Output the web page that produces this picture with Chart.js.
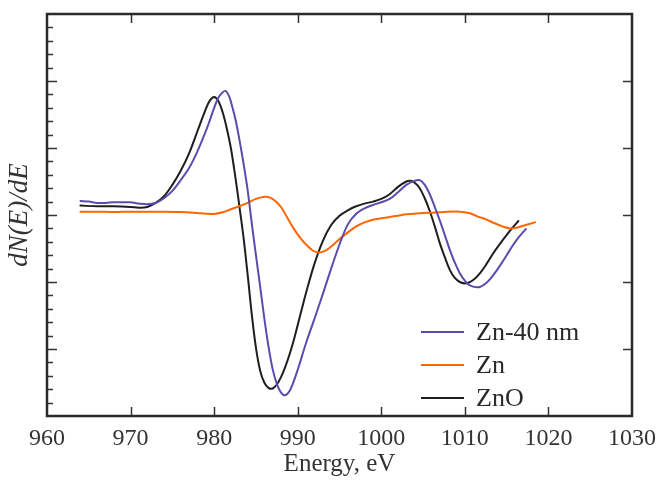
<!DOCTYPE html>
<html>
<head>
<meta charset="utf-8">
<script src="https://cdn.jsdelivr.net/npm/chart.js@4"></script>
<style>
html,body{margin:0;padding:0;background:#fff;}
#wrap{width:656px;height:483px;position:relative;}
</style>
</head>
<body>
<div id="wrap"><canvas id="c" width="656" height="483"></canvas></div>
<script>
// Energy (eV) and dN(E)/dE values
const zn40X = [964,965,966,967,968,969,970,971,972,973,974,975,976,977,978,979,979.5,980,980.5,981,981.4,981.8,982.2,982.6,983,983.5,984,984.5,985,985.5,986,986.5,987,987.5,988,988.5,989,989.5,990,990.5,991,992,993,994,995,996,997,998,999,1000,1001,1002,1003,1004,1004.6,1005.2,1005.8,1006.4,1007,1007.6,1008.2,1008.8,1009.4,1010,1010.6,1011.6,1012.3,1013,1013.8,1014.6,1015.4,1016.2,1017.3];
const zn40Y = [0.21,0.2,0.18,0.18,0.19,0.19,0.19,0.17,0.16,0.18,0.25,0.36,0.52,0.7,0.95,1.25,1.42,1.6,1.75,1.83,1.85,1.77,1.6,1.4,1.14,0.78,0.38,-0.12,-0.6,-1.06,-1.54,-1.96,-2.3,-2.52,-2.65,-2.69,-2.63,-2.49,-2.31,-2.11,-1.91,-1.55,-1.18,-0.8,-0.44,-0.14,0.02,0.1,0.15,0.19,0.24,0.34,0.45,0.51,0.52,0.45,0.31,0.12,-0.08,-0.3,-0.52,-0.71,-0.87,-0.98,-1.05,-1.08,-1.04,-0.96,-0.83,-0.68,-0.52,-0.37,-0.21];

const znX = [964,966,968,970,972,974,976,978,979,980,981,982,983,984,985,985.9,986.7,987.4,988.1,988.8,989.5,990.3,991,991.8,992.5,993.2,994,995,996,997,998,999,1000,1001,1002,1003,1004.6,1006,1007.5,1009.4,1010.5,1011.5,1012.6,1013.5,1014.5,1015.4,1016.2,1017,1018.4];
const znY = [0.05,0.05,0.045,0.05,0.05,0.05,0.045,0.03,0.02,0.015,0.04,0.085,0.13,0.18,0.24,0.27,0.26,0.2,0.1,-0.05,-0.2,-0.34,-0.44,-0.53,-0.56,-0.54,-0.47,-0.36,-0.26,-0.17,-0.11,-0.07,-0.05,-0.03,-0.01,0.01,0.025,0.035,0.045,0.05,0.03,-0.02,-0.07,-0.12,-0.17,-0.2,-0.19,-0.16,-0.11];

const znoX = [964,966,968,970,971,972,973,974,975,976,977,978,979,979.5,980,980.5,981,981.5,982,982.5,983,983.5,984,984.5,985,985.5,986,986.5,987,987.5,988,988.5,989,989.5,990,990.5,991,992,993,994,995,996,997,998,999,1000,1001,1002,1003,1003.5,1004,1004.6,1005.2,1005.8,1006.4,1007,1007.6,1008.2,1008.8,1009.4,1010.2,1011,1011.8,1012.6,1013.4,1014.2,1015,1015.7,1016.4];
const znoY = [0.14,0.13,0.13,0.12,0.11,0.12,0.18,0.28,0.45,0.66,0.92,1.25,1.58,1.71,1.76,1.7,1.54,1.3,1.0,0.6,0.15,-0.32,-0.88,-1.48,-1.98,-2.32,-2.5,-2.58,-2.59,-2.53,-2.42,-2.27,-2.09,-1.88,-1.64,-1.4,-1.16,-0.73,-0.39,-0.15,-0.01,0.07,0.13,0.17,0.2,0.24,0.31,0.42,0.5,0.51,0.48,0.4,0.25,0.06,-0.17,-0.42,-0.63,-0.82,-0.94,-1.0,-1.02,-0.97,-0.87,-0.73,-0.57,-0.43,-0.3,-0.19,-0.09];

const seriesNames = ['Zn-40 nm','Zn','ZnO'];
const seriesColors = ['#5a4cae','#ff6600','#1e1e1e'];
const xTicks = [960,970,980,990,1000,1010,1020,1030];
const yMajor = [-2,-1,0,1,2];

const FONT = '"Liberation Serif","Times New Roman",serif';
const pts = (xs, ys) => xs.map((x,i)=>({x:x,y:ys[i]}));

const frame = {
  id:'frame',
  afterDraw(chart){
    const {ctx, chartArea:a, scales:{x,y}} = chart;
    ctx.save();
    ctx.strokeStyle = '#333';
    ctx.lineWidth = 1.5;
    xTicks.forEach(v=>{
      if(v===960||v===1030) return;
      const px = Math.round(x.getPixelForValue(v))+0.5;
      ctx.beginPath();
      ctx.moveTo(px,a.bottom); ctx.lineTo(px,a.bottom-9);
      ctx.moveTo(px,a.top); ctx.lineTo(px,a.top+9);
      ctx.stroke();
    });
    for(let k=-14;k<=14;k++){
      const v = k/5;
      const py = Math.round(y.getPixelForValue(v))+0.5;
      const major = (k%5===0);
      ctx.beginPath();
      ctx.moveTo(a.left,py); ctx.lineTo(a.left+(major?10:6),py);
      ctx.stroke();
    }
    yMajor.forEach(v=>{
      const py = Math.round(y.getPixelForValue(v))+0.5;
      ctx.beginPath();
      ctx.moveTo(a.right,py); ctx.lineTo(a.right-9,py);
      ctx.stroke();
    });
    ctx.lineWidth = 2.5;
    ctx.strokeStyle = '#2a2a2a';
    ctx.strokeRect(a.left,a.top,a.right-a.left,a.bottom-a.top);
    ctx.font = '26px ' + FONT;
    ctx.textBaseline = 'middle';
    ctx.textAlign = 'left';
    chart.data.datasets.forEach((ds,i)=>{
      const ly = 332 + i*33;
      ctx.strokeStyle = ds.borderColor;
      ctx.lineWidth = 2;
      ctx.beginPath();
      ctx.moveTo(421,ly); ctx.lineTo(464,ly);
      ctx.stroke();
      ctx.fillStyle = '#2a2a2a';
      ctx.fillText(ds.label,476,ly+1);
    });
    ctx.restore();
  }
};

new Chart(document.getElementById('c'),{
  type:'line',
  data:{
    datasets:[
      {label:seriesNames[0],data:pts(zn40X,zn40Y),borderColor:seriesColors[0]},
      {label:seriesNames[1],data:pts(znX,znY),borderColor:seriesColors[1]},
      {label:seriesNames[2],data:pts(znoX,znoY),borderColor:seriesColors[2]}
    ]
  },
  options:{
    responsive:false,
    animation:false,
    events:[],
    layout:{padding:{top:14,right:24,left:0,bottom:0}},
    elements:{
      point:{radius:0},
      line:{borderWidth:2,tension:0.35,fill:false,borderJoinStyle:'round',borderCapStyle:'round'}
    },
    plugins:{legend:{display:false},tooltip:{enabled:false}},
    scales:{
      x:{
        type:'linear',min:960,max:1030,
        afterBuildTicks(s){ s.ticks = xTicks.map(v=>({value:v})); },
        afterFit(s){ s.height = 67; s.paddingLeft = 0; s.paddingRight = 0; },
        grid:{display:false,drawTicks:false},
        border:{display:false},
        ticks:{font:{family:FONT,size:24},color:'#333',padding:8,maxRotation:0,autoSkip:false,
               callback:(v)=>String(v)},
        title:{display:true,text:'Energy, eV',font:{family:FONT,size:25},color:'#333',padding:{top:0,bottom:4}}
      },
      y:{
        min:-3,max:3,
        afterFit(s){ s.width = 47; s.paddingTop = 0; s.paddingBottom = 0; },
        grid:{display:false,drawTicks:false},
        border:{display:false},
        ticks:{display:false},
        title:{display:true,text:'dN(E)/dE',font:{family:FONT,size:27,style:'italic'},color:'#333',padding:{top:4,bottom:0}}
      }
    }
  },
  plugins:[frame]
});
</script>
</body>
</html>
